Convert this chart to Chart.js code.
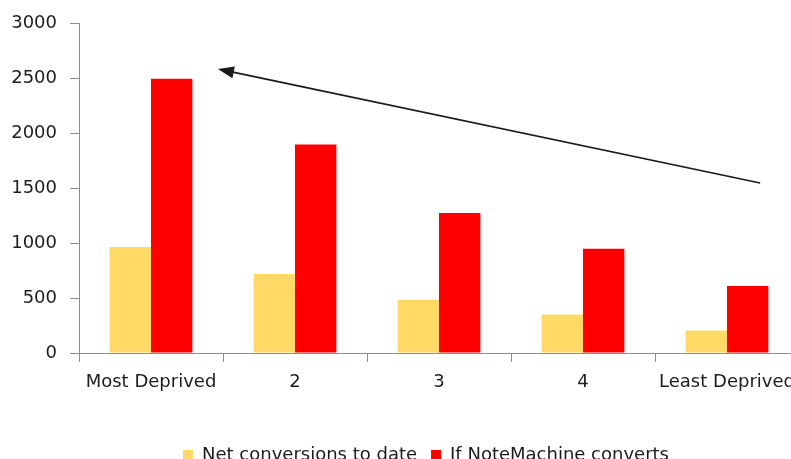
<!DOCTYPE html>
<html>
<head>
<meta charset="utf-8">
<script src="https://cdn.jsdelivr.net/npm/chart.js@4/dist/chart.umd.min.js"></script>
<style>
    html, body { margin: 0; padding: 0; background: #fff; overflow: hidden; }
    #wrap { width: 791px; height: 459px; overflow: hidden; }
    #conversionsChart { display: block; }
</style>
</head>
<body>
<div id="wrap">
    <canvas id="conversionsChart" width="799" height="459"></canvas>
</div>
<script>
const deprivationBands = ['Most Deprived', '2', '3', '4', 'Least Deprived'];
const netConversions = [965, 720, 485, 350, 205];
const ifNoteMachineConverts = [2500, 1900, 1275, 950, 610];
const yTicks = [0, 500, 1000, 1500, 2000, 2500, 3000];

// trend arrow, tail then head, in (band index, value) units
const trendArrow = [
    { x: 4.23, y: 1550 },
    { x: 0.465, y: 2588 },
];

const AXIS_GREY = '#8c8c8c';
const TEXT_DARK = '#1c1c1c';
const LEGEND_NUDGE = 21;

Chart.defaults.font.family = '"DejaVu Sans", Verdana, sans-serif';
Chart.defaults.font.size = 18;
Chart.defaults.color = TEXT_DARK;

const arrowPlugin = {
    id: 'trendArrow',
    afterDatasetsDraw(chart) {
        const xs = chart.scales.x;
        const ys = chart.scales.y;
        const x1 = xs.getPixelForValue(trendArrow[0].x);
        const y1 = ys.getPixelForValue(trendArrow[0].y);
        const x2 = xs.getPixelForValue(trendArrow[1].x);
        const y2 = ys.getPixelForValue(trendArrow[1].y);
        const ang = Math.atan2(y2 - y1, x2 - x1);
        const headLen = 16;
        const headHalf = 6;
        const ctx = chart.ctx;

        ctx.save();
        ctx.strokeStyle = '#1a1a1a';
        ctx.fillStyle = '#1a1a1a';
        ctx.lineWidth = 1.6;
        ctx.beginPath();
        ctx.moveTo(x1, y1);
        ctx.lineTo(x2 - Math.cos(ang) * (headLen - 2), y2 - Math.sin(ang) * (headLen - 2));
        ctx.stroke();

        const bx = x2 - Math.cos(ang) * headLen;
        const by = y2 - Math.sin(ang) * headLen;
        ctx.beginPath();
        ctx.moveTo(x2, y2);
        ctx.lineTo(bx + Math.sin(ang) * headHalf, by - Math.cos(ang) * headHalf);
        ctx.lineTo(bx - Math.sin(ang) * headHalf, by + Math.cos(ang) * headHalf);
        ctx.closePath();
        ctx.fill();
        ctx.restore();
    },
};

// legend sits a little right of the canvas centre
const legendNudge = {
    id: 'legendNudge',
    afterLayout(chart) {
        if (!chart.legend) return;
        chart.legend.left += LEGEND_NUDGE;
        chart.legend.right += LEGEND_NUDGE;
    },
};

new Chart(document.getElementById('conversionsChart').getContext('2d'), {
    type: 'bar',
    data: {
        labels: deprivationBands,
        datasets: [{
            label: 'Net conversions to date',
            data: netConversions,
            backgroundColor: '#FFD966',
            borderWidth: 0,
        }, {
            label: 'If NoteMachine converts',
            data: ifNoteMachineConverts,
            backgroundColor: '#FF0000',
            borderWidth: 0,
        }],
    },
    options: {
        responsive: false,
        animation: false,
        layout: { padding: { left: 11, right: 0, top: 23, bottom: -15 } },
        datasets: {
            bar: { categoryPercentage: 0.575, barPercentage: 1.0 },
        },
        plugins: {
            legend: {
                position: 'bottom',
                align: 'center',
                labels: {
                    boxWidth: 10,
                    boxHeight: 10,
                    padding: 14,
                    color: TEXT_DARK,
                    font: { size: 18 },
                },
            },
            tooltip: { enabled: false },
        },
        scales: {
            x: {
                grid: {
                    display: true,
                    drawOnChartArea: false,
                    drawTicks: true,
                    tickLength: 9,
                    color: AXIS_GREY,
                },
                border: { display: true, color: AXIS_GREY, width: 1 },
                ticks: { padding: 10, maxRotation: 0, autoSkip: false },
                afterFit(scale) {
                    scale.height = 79;
                    scale.paddingRight = 0;
                },
            },
            y: {
                min: 0,
                max: 3000,
                afterBuildTicks(scale) {
                    scale.ticks = yTicks.map(function (v) { return { value: v }; });
                },
                grid: {
                    display: true,
                    drawOnChartArea: false,
                    drawTicks: true,
                    tickLength: 9,
                    color: AXIS_GREY,
                },
                border: { display: true, color: AXIS_GREY, width: 1 },
                ticks: {
                    padding: 13,
                    callback: function (v) { return String(v); },
                },
                afterFit(scale) { scale.width = 68; },
            },
        },
    },
    plugins: [arrowPlugin, legendNudge],
});
</script>
</body>
</html>
